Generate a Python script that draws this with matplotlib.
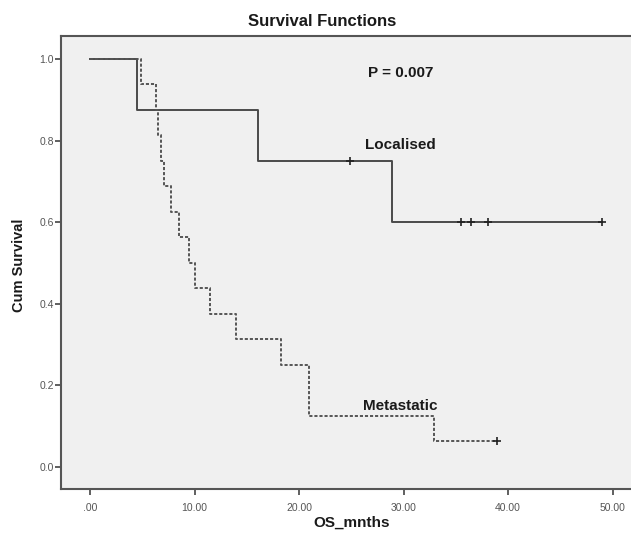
import numpy as np
import matplotlib
matplotlib.use("Agg")
import matplotlib.pyplot as plt

plt.rcParams['font.family'] = ['Liberation Sans', 'DejaVu Sans']

# survival times (months) and event flags (1 = death, 0 = censored)
loc_times = [4.47, 16.07, 24.87, 28.9, 35.46, 36.44, 38.07, 48.97]
loc_events = [1, 1, 0, 1, 0, 0, 0, 0]

met_times = [4.88, 6.31, 6.50, 6.79, 7.08, 7.75, 8.51, 9.47, 10.04,
             11.48, 13.96, 18.27, 20.95, 20.95, 32.9, 38.9]
met_events = [1, 1, 1, 1, 1, 1, 1, 1, 1, 1, 1, 1, 1, 1, 1, 0]

xticks = [0, 10, 20, 30, 40, 50]
xtick_labels = [".00", "10.00", "20.00", "30.00", "40.00", "50.00"]
yticks = [0.0, 0.2, 0.4, 0.6, 0.8, 1.0]
ytick_labels = ["0.0", "0.2", "0.4", "0.6", "0.8", "1.0"]


def kaplan_meier(times, events):
    order = np.argsort(times, kind="stable")
    t = np.asarray(times)[order]
    e = np.asarray(events)[order]
    n = len(t)
    xs, ys = [0.0], [1.0]
    cens_x, cens_y = [], []
    s = 1.0
    i = 0
    while i < n:
        ti = t[i]
        at_risk = n - i
        d = 0
        c = 0
        while i < n and t[i] == ti:
            if e[i]:
                d += 1
            else:
                c += 1
            i += 1
        if d:
            s = s * (at_risk - d) / at_risk
            xs.append(ti)
            ys.append(s)
        if c:
            cens_x.append(ti)
            cens_y.append(s)
    last = max(t)
    xs.append(last)
    ys.append(s)
    return xs, ys, cens_x, cens_y


W, H = 631, 537
fig = plt.figure(figsize=(W / 100, H / 100), dpi=100)
left, right, top, bottom = 60.7, 633, 35.7, 489
ax = fig.add_axes([left / W, 1 - bottom / H, (right - left) / W, (bottom - top) / H])
ax.set_facecolor("#f0f0f0")

line_col = "#4a4a4a"

x, y, cx, cy = kaplan_meier(loc_times, loc_events)
ax.step(x, y, where="post", color=line_col, lw=1.4)
ax.plot(cx, cy, "+", color="#222222", ms=6, mew=1.2)

x, y, cx, cy = kaplan_meier(met_times, met_events)
ax.step(x, y, where="post", color="#555555", lw=1.4, linestyle=(0, (1.6, 1.0)))
ax.plot(cx, cy, "+", color="#222222", ms=6, mew=1.2)

x_per = (612.7 - 90) / 50
ax.set_xlim(-(90 - left) / x_per, (right - 90) / x_per)
y_per = (466.7 - 59) / 1.0
ax.set_ylim(-(bottom - 466.7) / y_per, 1 + (59 - top) / y_per)

ax.set_xticks(xticks)
ax.set_xticklabels(xtick_labels)
ax.set_yticks(yticks)
ax.set_yticklabels(ytick_labels)
ax.tick_params(axis="both", direction="out", length=4, width=1.2, color="#444444",
               labelsize=7.5, labelcolor="#555555")
ax.tick_params(axis="x", pad=6)
ax.tick_params(axis="y", pad=1)

for side in ["left", "bottom", "top"]:
    ax.spines[side].set_color("#555555")
    ax.spines[side].set_linewidth(1.5)
ax.spines["right"].set_visible(False)

ax.text(29.7, 0.965, "P = 0.007", fontsize=11, fontweight="bold", ha="center", va="center",
        color="#1a1a1a")
ax.text(29.7, 0.79, "Localised", fontsize=11, fontweight="bold", ha="center", va="center",
        color="#1a1a1a")
ax.text(29.65, 0.149, "Metastatic", fontsize=11, fontweight="bold", ha="center", va="center",
        color="#1a1a1a")

fig.text(322 / W, 1 - 21 / H, "Survival Functions", fontsize=12, fontweight="bold",
         ha="center", va="center", color="#1a1a1a")
fig.text(352 / W, 1 - 523 / H, "OS_mnths", fontsize=11, fontweight="bold",
         ha="center", va="center", color="#1a1a1a")
fig.text(19 / W, 1 - 265 / H, "Cum Survival", fontsize=10.5, fontweight="bold", rotation=90,
         ha="center", va="center", color="#1a1a1a")

fig.savefig("out.png", dpi=100, facecolor="white")
